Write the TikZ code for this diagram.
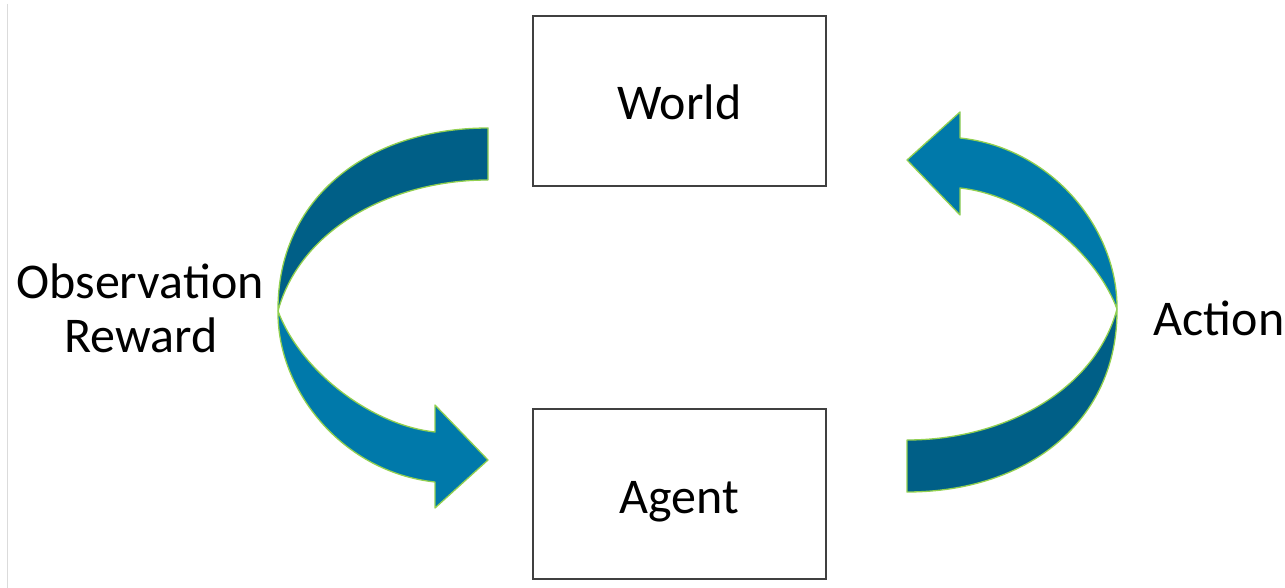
\documentclass[tikz,border=0pt]{standalone}
\usepackage{fontspec}
\setmainfont{Carlito}
\definecolor{bandDark}{RGB}{0,95,135}
\definecolor{bandLight}{RGB}{0,121,170}
\definecolor{rimGreen}{RGB}{146,208,80}
\definecolor{boxLine}{RGB}{64,64,64}
\begin{document}
\begin{tikzpicture}[x=1pt,y=-1pt,
  txt/.style={font=\fontsize{50}{60}\selectfont, inner sep=0pt},
  boxnode/.style={draw=boxLine, line width=1.3pt, minimum width=293pt, minimum height=170pt,
     inner sep=0pt, text height=38pt, text depth=0pt, font=\fontsize{50}{60}\selectfont},
  darkband/.style={fill=bandDark, draw=rimGreen, line width=1.3pt, line join=round},
  lightband/.style={fill=bandLight, draw=rimGreen, line width=1.3pt, line join=round}]
\useasboundingbox (0,0) rectangle (1285,588);
\draw[black!14, line width=0.8pt] (7,4) -- (7,588);

\node[boxnode] (world) at (679.5,101) {World};
\node[boxnode] (agent) at (679.5,494) {Agent};

\node[txt, anchor=base] (obs) at (140,298) {Observation};
\node[txt, anchor=base] (rew) at (141,352) {Reward};
\node[txt, anchor=base] (act) at (1219,335) {Action};

% left curved arrow (World -> Agent)
\coordinate (twistL) at (278,311);
\path[darkband] (488,128) .. controls (368,128) and (277,198) .. (twistL)
   .. controls (300,230) and (390,180) .. (488,180) -- cycle;
\path[lightband] (twistL) .. controls (277,390) and (342,472) .. (435,482)
   -- (435,508) -- (488,460) -- (435,405) -- (435,432)
   .. controls (370,425) and (300,370) .. (twistL) -- cycle;

% right curved arrow (Agent -> World), point symmetric
\begin{scope}[rotate around={180:(697.5,310)}]
\coordinate (twistR) at (278,311);
\path[darkband] (488,128) .. controls (368,128) and (277,198) .. (twistR)
   .. controls (300,230) and (390,180) .. (488,180) -- cycle;
\path[lightband] (twistR) .. controls (277,390) and (342,472) .. (435,482)
   -- (435,508) -- (488,460) -- (435,405) -- (435,432)
   .. controls (370,425) and (300,370) .. (twistR) -- cycle;
\end{scope}
\end{tikzpicture}
\end{document}
